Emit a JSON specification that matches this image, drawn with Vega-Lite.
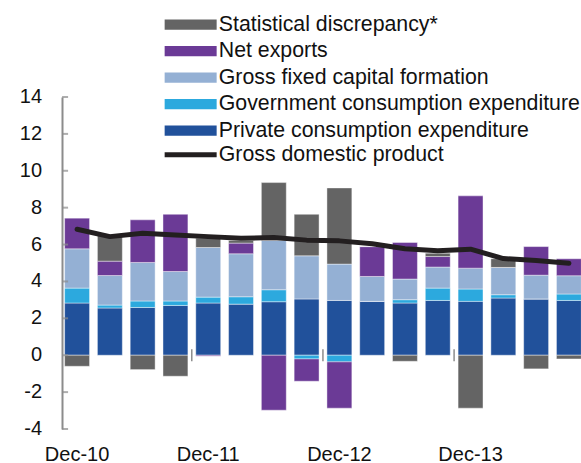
{
  "$schema": "https://vega.github.io/schema/vega-lite/v6.json",
  "autosize": "none",
  "width": 522,
  "height": 332,
  "padding": {"left": 62, "top": 97, "right": 0, "bottom": 34},
  "background": "white",
  "config": {
    "view": {"stroke": null},
    "font": "Liberation Sans",
    "legend": {
      "labelFont": "Liberation Sans",
      "labelFontSize": 21.3,
      "labelColor": "#111111",
      "padding": 0,
      "rowPadding": 4.5,
      "symbolSize": 169,
      "labelLimit": 500,
      "labelOffset": 17.5
    }
  },
  "datasets": {
    "comp": [
      {"q": "Dec-10", "c": "Private consumption expenditure", "v": 2.83},
      {"q": "Dec-10", "c": "Government consumption expenditure", "v": 0.81},
      {"q": "Dec-10", "c": "Gross fixed capital formation", "v": 2.13},
      {"q": "Dec-10", "c": "Net exports", "v": 1.66},
      {"q": "Dec-10", "c": "Statistical discrepancy*", "v": -0.6},
      {"q": "Mar-11", "c": "Private consumption expenditure", "v": 2.56},
      {"q": "Mar-11", "c": "Government consumption expenditure", "v": 0.16},
      {"q": "Mar-11", "c": "Gross fixed capital formation", "v": 1.6},
      {"q": "Mar-11", "c": "Net exports", "v": 0.78},
      {"q": "Mar-11", "c": "Statistical discrepancy*", "v": 1.39},
      {"q": "Jun-11", "c": "Private consumption expenditure", "v": 2.59},
      {"q": "Jun-11", "c": "Government consumption expenditure", "v": 0.35},
      {"q": "Jun-11", "c": "Gross fixed capital formation", "v": 2.09},
      {"q": "Jun-11", "c": "Net exports", "v": 2.31},
      {"q": "Jun-11", "c": "Statistical discrepancy*", "v": -0.78},
      {"q": "Sep-11", "c": "Private consumption expenditure", "v": 2.7},
      {"q": "Sep-11", "c": "Government consumption expenditure", "v": 0.24},
      {"q": "Sep-11", "c": "Gross fixed capital formation", "v": 1.6},
      {"q": "Sep-11", "c": "Net exports", "v": 3.1},
      {"q": "Sep-11", "c": "Statistical discrepancy*", "v": -1.14},
      {"q": "Dec-11", "c": "Private consumption expenditure", "v": 2.83},
      {"q": "Dec-11", "c": "Government consumption expenditure", "v": 0.32},
      {"q": "Dec-11", "c": "Gross fixed capital formation", "v": 2.69},
      {"q": "Dec-11", "c": "Net exports", "v": -0.05},
      {"q": "Dec-11", "c": "Statistical discrepancy*", "v": 0.51},
      {"q": "Mar-12", "c": "Private consumption expenditure", "v": 2.77},
      {"q": "Mar-12", "c": "Government consumption expenditure", "v": 0.4},
      {"q": "Mar-12", "c": "Gross fixed capital formation", "v": 2.33},
      {"q": "Mar-12", "c": "Net exports", "v": 0.58},
      {"q": "Mar-12", "c": "Statistical discrepancy*", "v": 0.14},
      {"q": "Jun-12", "c": "Private consumption expenditure", "v": 2.9},
      {"q": "Jun-12", "c": "Government consumption expenditure", "v": 0.65},
      {"q": "Jun-12", "c": "Gross fixed capital formation", "v": 2.67},
      {"q": "Jun-12", "c": "Net exports", "v": -2.98},
      {"q": "Jun-12", "c": "Statistical discrepancy*", "v": 3.14},
      {"q": "Sep-12", "c": "Private consumption expenditure", "v": 3.05},
      {"q": "Sep-12", "c": "Government consumption expenditure", "v": -0.2},
      {"q": "Sep-12", "c": "Gross fixed capital formation", "v": 2.34},
      {"q": "Sep-12", "c": "Net exports", "v": -1.21},
      {"q": "Sep-12", "c": "Statistical discrepancy*", "v": 2.25},
      {"q": "Dec-12", "c": "Private consumption expenditure", "v": 2.97},
      {"q": "Dec-12", "c": "Government consumption expenditure", "v": -0.36},
      {"q": "Dec-12", "c": "Gross fixed capital formation", "v": 1.97},
      {"q": "Dec-12", "c": "Net exports", "v": -2.51},
      {"q": "Dec-12", "c": "Statistical discrepancy*", "v": 4.13},
      {"q": "Mar-13", "c": "Private consumption expenditure", "v": 2.92},
      {"q": "Mar-13", "c": "Government consumption expenditure", "v": 0.0},
      {"q": "Mar-13", "c": "Gross fixed capital formation", "v": 1.35},
      {"q": "Mar-13", "c": "Net exports", "v": 1.62},
      {"q": "Mar-13", "c": "Statistical discrepancy*", "v": 0.0},
      {"q": "Jun-13", "c": "Private consumption expenditure", "v": 2.83},
      {"q": "Jun-13", "c": "Government consumption expenditure", "v": 0.18},
      {"q": "Jun-13", "c": "Gross fixed capital formation", "v": 1.12},
      {"q": "Jun-13", "c": "Net exports", "v": 1.98},
      {"q": "Jun-13", "c": "Statistical discrepancy*", "v": -0.33},
      {"q": "Sep-13", "c": "Private consumption expenditure", "v": 2.97},
      {"q": "Sep-13", "c": "Government consumption expenditure", "v": 0.67},
      {"q": "Sep-13", "c": "Gross fixed capital formation", "v": 1.14},
      {"q": "Sep-13", "c": "Net exports", "v": 0.57},
      {"q": "Sep-13", "c": "Statistical discrepancy*", "v": 0.18},
      {"q": "Dec-13", "c": "Private consumption expenditure", "v": 2.92},
      {"q": "Dec-13", "c": "Government consumption expenditure", "v": 0.67},
      {"q": "Dec-13", "c": "Gross fixed capital formation", "v": 1.13},
      {"q": "Dec-13", "c": "Net exports", "v": 3.92},
      {"q": "Dec-13", "c": "Statistical discrepancy*", "v": -2.87},
      {"q": "Mar-14", "c": "Private consumption expenditure", "v": 3.1},
      {"q": "Mar-14", "c": "Government consumption expenditure", "v": 0.18},
      {"q": "Mar-14", "c": "Gross fixed capital formation", "v": 1.48},
      {"q": "Mar-14", "c": "Net exports", "v": 0.0},
      {"q": "Mar-14", "c": "Statistical discrepancy*", "v": 0.47},
      {"q": "Jun-14", "c": "Private consumption expenditure", "v": 3.05},
      {"q": "Jun-14", "c": "Government consumption expenditure", "v": 0.0},
      {"q": "Jun-14", "c": "Gross fixed capital formation", "v": 1.29},
      {"q": "Jun-14", "c": "Net exports", "v": 1.55},
      {"q": "Jun-14", "c": "Statistical discrepancy*", "v": -0.74},
      {"q": "Sep-14", "c": "Private consumption expenditure", "v": 2.97},
      {"q": "Sep-14", "c": "Government consumption expenditure", "v": 0.35},
      {"q": "Sep-14", "c": "Gross fixed capital formation", "v": 0.99},
      {"q": "Sep-14", "c": "Net exports", "v": 0.92},
      {"q": "Sep-14", "c": "Statistical discrepancy*", "v": -0.2}
    ],
    "gdp": [
      {"q": "Dec-10", "s": "Gross domestic product", "v": 6.83},
      {"q": "Mar-11", "s": "Gross domestic product", "v": 6.43},
      {"q": "Jun-11", "s": "Gross domestic product", "v": 6.61},
      {"q": "Sep-11", "s": "Gross domestic product", "v": 6.52},
      {"q": "Dec-11", "s": "Gross domestic product", "v": 6.43},
      {"q": "Mar-12", "s": "Gross domestic product", "v": 6.34},
      {"q": "Jun-12", "s": "Gross domestic product", "v": 6.38},
      {"q": "Sep-12", "s": "Gross domestic product", "v": 6.24},
      {"q": "Dec-12", "s": "Gross domestic product", "v": 6.2},
      {"q": "Mar-13", "s": "Gross domestic product", "v": 6.04},
      {"q": "Jun-13", "s": "Gross domestic product", "v": 5.77},
      {"q": "Sep-13", "s": "Gross domestic product", "v": 5.66},
      {"q": "Dec-13", "s": "Gross domestic product", "v": 5.75},
      {"q": "Mar-14", "s": "Gross domestic product", "v": 5.24},
      {"q": "Jun-14", "s": "Gross domestic product", "v": 5.13},
      {"q": "Sep-14", "s": "Gross domestic product", "v": 4.99}
    ],
    "years": [
      {"q": "Dec-11", "lo": -0.33, "hi": 0.33},
      {"q": "Dec-12", "lo": -0.33, "hi": 0.33},
      {"q": "Dec-13", "lo": -0.33, "hi": 0.33}
    ],
    "zero": [
      {"z": 0}
    ],
    "yt": [
      {"t": -4}, {"t": -2}, {"t": 0}, {"t": 2}, {"t": 4},
      {"t": 6}, {"t": 8}, {"t": 10}, {"t": 12}, {"t": 14}
    ]
  },
  "encoding": {
    "x": {
      "field": "q",
      "type": "ordinal",
      "scale": {
        "domain": ["Dec-10","Mar-11","Jun-11","Sep-11","Dec-11","Mar-12","Jun-12","Sep-12","Dec-12","Mar-13","Jun-13","Sep-13","Dec-13","Mar-14","Jun-14","Sep-14"],
        "paddingInner": 0.24,
        "paddingOuter": 0.08
      },
      "axis": {
        "title": null,
        "values": ["Dec-10","Dec-11","Dec-12","Dec-13"],
        "labelAngle": 0,
        "domain": false,
        "ticks": false,
        "labelFont": "Liberation Sans",
        "labelFontSize": 20,
        "labelColor": "#111111",
        "labelPadding": 15
      }
    }
  },
  "layer": [
    {
      "data": {"name": "comp"},
      "transform": [
        {"calculate": "indexof(['Private consumption expenditure','Government consumption expenditure','Gross fixed capital formation','Net exports','Statistical discrepancy*'], datum.c)", "as": "o"}
      ],
      "mark": {"type": "bar", "stroke": "#ffffff", "strokeWidth": 0.6, "strokeOpacity": 0.7},
      "encoding": {
        "y": {
          "field": "v",
          "type": "quantitative",
          "stack": "zero",
          "scale": {"domain": [-4, 14], "nice": false, "zero": false},
          "axis": {
            "title": null,
            "values": [-4,-2,0,2,4,6,8,10,12,14],
            "grid": false,
            "labels": false,
            "ticks": false,
            "domainColor": "#8c8c8c",
            "domainWidth": 2
          }
        },
        "color": {
          "field": "c",
          "type": "nominal",
          "scale": {
            "domain": ["Statistical discrepancy*","Net exports","Gross fixed capital formation","Government consumption expenditure","Private consumption expenditure"],
            "range": ["#646464","#6b3a96","#94b0d4","#2ca9de","#21519b"]
          },
          "legend": {
            "title": null,
            "orient": "none",
            "legendX": 118,
            "legendY": -83,
            "symbolType": "M-4,-0.78L4,-0.78L4,0.78L-4,0.78Z",
            "symbolStrokeWidth": 0
          }
        },
        "order": {"field": "o", "type": "quantitative"}
      }
    },
    {
      "data": {"name": "yt"},
      "mark": {"type": "tick", "orient": "horizontal", "color": "#8c8c8c", "thickness": 2, "size": 6, "xOffset": -12},
      "encoding": {
        "x": {"datum": "Dec-10"},
        "y": {"field": "t", "type": "quantitative"}
      }
    },
    {
      "data": {"name": "yt"},
      "mark": {"type": "text", "align": "right", "baseline": "middle", "dx": -35, "font": "Liberation Sans", "fontSize": 20, "color": "#111111"},
      "encoding": {
        "x": {"datum": "Dec-10"},
        "y": {"field": "t", "type": "quantitative"},
        "text": {"field": "t", "type": "nominal"}
      }
    },
    {
      "data": {"name": "zero"},
      "mark": {"type": "rule", "color": "#8c8c8c", "strokeWidth": 2},
      "encoding": {
        "y": {"field": "z", "type": "quantitative"}
      }
    },
    {
      "data": {"name": "years"},
      "mark": {"type": "rule", "color": "#8c8c8c", "strokeWidth": 1.5, "xOffset": -4},
      "encoding": {
        "x": {"field": "q", "type": "ordinal", "bandPosition": 0},
        "y": {"field": "lo", "type": "quantitative"},
        "y2": {"field": "hi"}
      }
    },
    {
      "data": {"name": "gdp"},
      "mark": {"type": "line", "strokeWidth": 5, "strokeCap": "round", "strokeJoin": "round"},
      "encoding": {
        "y": {"field": "v", "type": "quantitative"},
        "stroke": {
          "field": "s",
          "type": "nominal",
          "scale": {"range": ["#231f20"]},
          "legend": {
            "title": null,
            "orient": "none",
            "legendX": 118,
            "legendY": 47,
            "symbolType": "M-4,0L4,0",
            "symbolStrokeWidth": 5
          }
        }
      }
    }
  ]
}
